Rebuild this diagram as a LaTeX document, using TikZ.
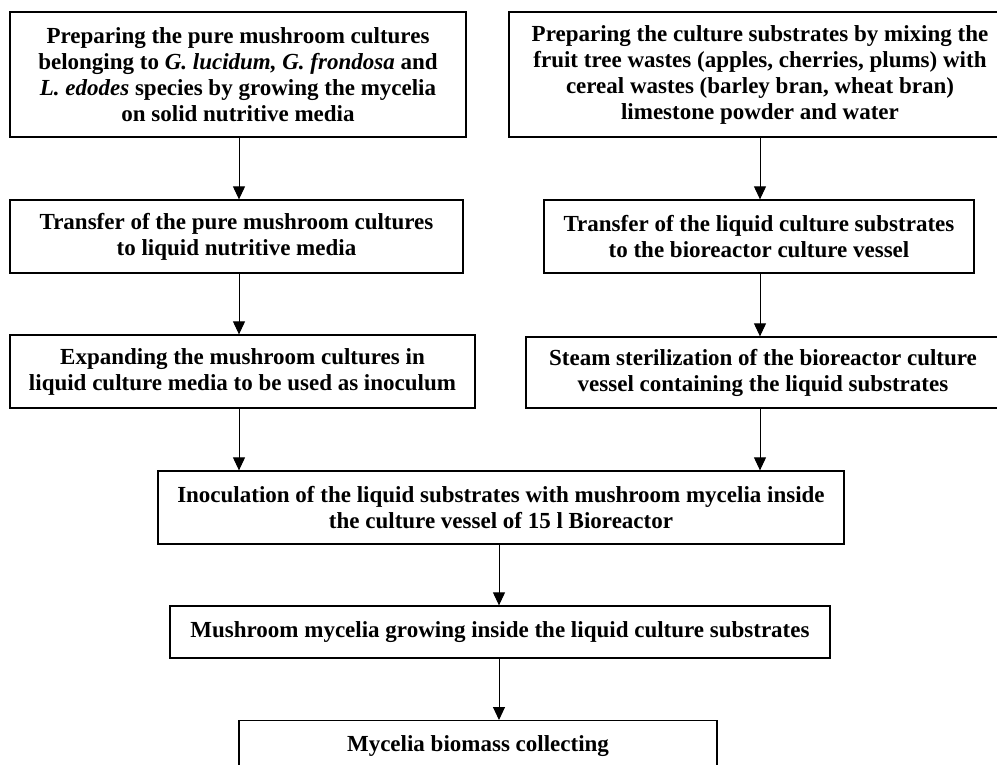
\documentclass[tikz,border=0pt]{standalone}
\usepackage{fontspec}
\setmainfont{Liberation Serif}
\usetikzlibrary{arrows.meta}
\begin{document}
\begin{tikzpicture}[x=1pt,y=-1pt,
  box/.style={draw=black, line width=1.3pt, fill=white, align=center, inner sep=0pt,
    font=\fontsize{23}{26}\selectfont\bfseries},
  arr/.style={line width=1pt, -{Triangle[length=13pt,width=12pt]}}]
\useasboundingbox (0,0) rectangle (997,764);
\node[box, minimum width=456pt, minimum height=125pt] (b1) at (238,74.5)
  {Preparing the pure mushroom cultures\\belonging to \textit{G. lucidum, G. frondosa} and\\\textit{L. edodes} species by growing the mycelia\\on solid nutritive media};
\node[box, minimum width=502pt, minimum height=125pt] (b2) at (760,74.5)
  {Preparing the culture substrates by mixing the\\fruit tree wastes (apples, cherries, plums) with\\cereal wastes (barley bran, wheat bran)\\limestone powder and water};
\node[box, minimum width=453pt, minimum height=73pt] (b3) at (236.5,236.5)
  {Transfer of the pure mushroom cultures\\to liquid nutritive media};
\node[box, minimum width=430pt, minimum height=73pt] (b4) at (759,236.5)
  {Transfer of the liquid culture substrates\\to the bioreactor culture vessel};
\node[box, minimum width=465pt, minimum height=73pt] (b5) at (242.5,371.5)
  {Expanding the mushroom cultures in\\liquid culture media to be used as inoculum};
\node[box, minimum width=474pt, minimum height=71pt] (b6) at (763,372.5)
  {Steam sterilization of the bioreactor culture\\vessel containing the liquid substrates};
\node[box, minimum width=686pt, minimum height=73pt] (b7) at (501,507.5)
  {Inoculation of the liquid substrates with mushroom mycelia inside\\the culture vessel of 15 l Bioreactor};
\node[box, minimum width=660pt, minimum height=52pt] (b8) at (500,632)
  {Mushroom mycelia growing inside the liquid culture substrates};
\node[box, minimum width=478pt, minimum height=73pt, anchor=north] (b9) at (478,720)
  {\rule{0pt}{31pt}Mycelia biomass collecting\\[14pt]\strut};
\coordinate (L) at (239,0);
\coordinate (R) at (760,0);
\coordinate (M) at (499,0);
\draw[arr] (b1.south -| L) -- (b3.north -| L);
\draw[arr] (b3.south -| L) -- (b5.north -| L);
\draw[arr] (b5.south -| L) -- (b7.north -| L);
\draw[arr] (b2.south -| R) -- (b4.north -| R);
\draw[arr] (b4.south -| R) -- (b6.north -| R);
\draw[arr] (b6.south -| R) -- (b7.north -| R);
\draw[arr] (b7.south -| M) -- (b8.north -| M);
\draw[arr] (b8.south -| M) -- (b9.north -| M);
\end{tikzpicture}
\end{document}
